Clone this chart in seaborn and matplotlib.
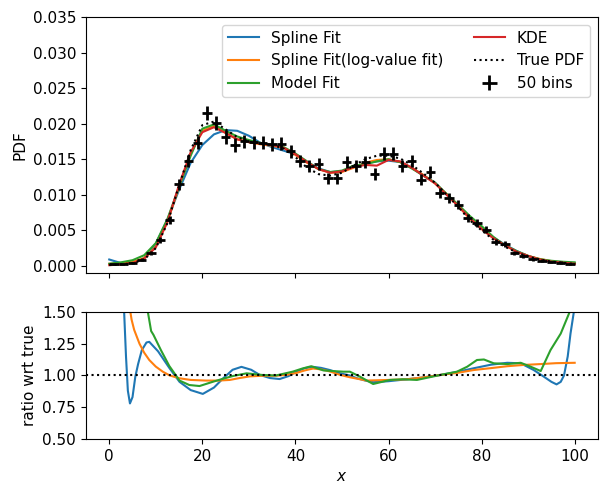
import numpy as np
import matplotlib
matplotlib.use("Agg")
import matplotlib.pyplot as plt
import seaborn as sns

plt.rcParams["font.size"] = 11

# ---------------- data ----------------
x_grid = [0, 2.5, 5, 7.5, 10, 12.5, 15, 17.5, 20, 22.5, 25, 27.5, 30, 32.5, 35,
          37.5, 40, 42.5, 45, 47.5, 50, 52.5, 55, 57.5, 60, 62.5, 65, 67.5, 70,
          72.5, 75, 77.5, 80, 82.5, 85, 87.5, 90, 92.5, 95, 97.5, 100]

spline_fit = [0.0009, 0.0004, 0.00032, 0.0011, 0.0031, 0.0065, 0.0107, 0.0145, 0.0170,
              0.0185, 0.0191, 0.0190, 0.0183, 0.0173, 0.0167, 0.0162, 0.0157, 0.0146,
              0.0137, 0.0132, 0.0133, 0.0139, 0.0144, 0.0147, 0.0148, 0.0146, 0.0138,
              0.0127, 0.0117, 0.0100, 0.0085, 0.0067, 0.0053, 0.0040, 0.0030, 0.0021,
              0.0014, 0.0009, 0.00057, 0.00040, 0.0004]

spline_log = [0.0003, 0.0004, 0.00058, 0.0011, 0.0027, 0.0062, 0.0111, 0.0158, 0.0190,
              0.0197, 0.0187, 0.0178, 0.0174, 0.0171, 0.0169, 0.0166, 0.0156, 0.0145,
              0.0136, 0.0131, 0.0132, 0.0138, 0.0145, 0.0149, 0.0150, 0.0146, 0.0138,
              0.0128, 0.0116, 0.0101, 0.0084, 0.0066, 0.0052, 0.0039, 0.0029, 0.0020,
              0.0014, 0.00098, 0.00066, 0.00046, 0.00031]

model_fit = [0.0003, 0.0005, 0.0008, 0.0015, 0.0032, 0.0066, 0.0111, 0.0155, 0.0193,
             0.0199, 0.0190, 0.0182, 0.0177, 0.0173, 0.0170, 0.0167, 0.0158, 0.0147,
             0.0136, 0.0132, 0.0134, 0.0141, 0.0143, 0.0147, 0.0150, 0.0146, 0.0137,
             0.0127, 0.0117, 0.0101, 0.0086, 0.0070, 0.0056, 0.0041, 0.0029, 0.0021,
             0.0014, 0.00094, 0.00072, 0.00058, 0.0005]

kde = [0.0001, 0.0002, 0.0004, 0.0010, 0.0026, 0.0062, 0.0114, 0.0160, 0.0188,
       0.0195, 0.0187, 0.0178, 0.0174, 0.0172, 0.0170, 0.0166, 0.0157, 0.0146,
       0.0136, 0.0131, 0.0133, 0.0139, 0.0142, 0.0141, 0.0149, 0.0147, 0.0138,
       0.0127, 0.0116, 0.0100, 0.0084, 0.0067, 0.0052, 0.0039, 0.0029, 0.0020,
       0.0014, 0.0009, 0.0006, 0.00045, 0.0003]

true_pdf = [0.00012, 0.0002, 0.0004, 0.0009, 0.0025, 0.0060, 0.0113, 0.0163, 0.0198,
            0.0203, 0.0192, 0.0181, 0.0175, 0.0172, 0.0170, 0.0165, 0.0153, 0.0138,
            0.0129, 0.0127, 0.0131, 0.0141, 0.0150, 0.0155, 0.0155, 0.0151, 0.0142,
            0.0130, 0.0117, 0.0100, 0.0083, 0.0064, 0.0050, 0.0037, 0.0027, 0.0019,
            0.0013, 0.0009, 0.0006, 0.00042, 0.00026]

bin_centers = [1, 3, 5, 7, 9, 11, 13, 15, 17, 19, 21, 23, 25, 27, 29, 31, 33, 35, 37, 39,
               41, 43, 45, 47, 49, 51, 53, 55, 57, 59, 61, 63, 65, 67, 69, 71, 73, 75, 77,
               79, 81, 83, 85, 87, 89, 91, 93, 95, 97, 99]
bin_values = [0.0002, 0.0002, 0.0004, 0.00084, 0.0018, 0.0037, 0.0065, 0.0115, 0.0148,
              0.0173, 0.0215, 0.0201, 0.0181, 0.0170, 0.0175, 0.0174, 0.0173, 0.0171,
              0.0172, 0.0161, 0.0147, 0.0141, 0.0143, 0.0123, 0.0123, 0.0146, 0.0140,
              0.0146, 0.0129, 0.0158, 0.0158, 0.0140, 0.0147, 0.0121, 0.0132, 0.0103,
              0.0095, 0.0086, 0.0067, 0.0060, 0.0051, 0.0034, 0.0031, 0.0018, 0.0014,
              0.0009, 0.00075, 0.00056, 0.00047, 0.00024]
bin_errors = [0.0001, 0.0001, 0.00014, 0.0002, 0.0003, 0.00043, 0.00057, 0.00076, 0.00086,
              0.00093, 0.00104, 0.001, 0.00095, 0.00092, 0.00094, 0.00093, 0.00093, 0.00092,
              0.00093, 0.0009, 0.00086, 0.00084, 0.00085, 0.00078, 0.00078, 0.00085, 0.00084,
              0.00085, 0.0008, 0.00089, 0.00089, 0.00084, 0.00086, 0.00078, 0.00081, 0.00072,
              0.00069, 0.00066, 0.00058, 0.00055, 0.0005, 0.00041, 0.00039, 0.0003, 0.00026,
              0.00021, 0.00019, 0.00017, 0.00015, 0.00011]
bin_half_width = 1.0

# ratio panel
ratio_spline_x = [2.9, 3.2, 3.6, 4.0, 4.45, 5.0, 5.6, 6.2, 7.0, 8.0, 8.6, 10.5, 12.9, 15.1,
                  17.5, 20.1, 22.5, 24.4, 26.5, 28.4, 30.5, 32.3, 34.5, 36.6, 38.5, 40.2,
                  42.0, 43.8, 45.5, 47.4, 49.6, 51.7, 53.1, 55.0, 56.7, 60.0, 63.9, 67.5,
                  71.1, 75.0, 78.3, 82.0, 85.5, 88.4, 91.2, 93.4, 95.0, 96.1, 97.0, 97.7,
                  98.5, 99.1, 99.9, 100.0]
ratio_spline = [1.9, 1.5, 1.15, 0.88, 0.78, 0.83, 0.99, 1.09, 1.2, 1.26, 1.265, 1.19, 1.06,
                0.95, 0.885, 0.855, 0.905, 0.975, 1.045, 1.068, 1.045, 1.005, 0.98, 0.972,
                0.995, 1.03, 1.058, 1.068, 1.06, 1.043, 1.017, 1.0, 0.98, 0.96, 0.947, 0.955,
                0.97, 0.985, 1.004, 1.03, 1.057, 1.085, 1.10, 1.096, 1.043, 0.99, 0.95,
                0.93, 0.95, 1.0, 1.15, 1.33, 1.52, 1.6]

ratio_log_x = [4.2, 4.45, 4.8, 5.35, 6.5, 7.5, 8.6, 10.0, 11.5, 13.0, 15.1, 17.5, 20.8,
               23.5, 25.9, 28.0, 30.2, 33.0, 35.9, 38.0, 40.2, 42.0, 43.8, 45.5, 47.4,
               49.6, 51.7, 55.3, 60.0, 63.9, 67.5, 71.1, 75.0, 78.3, 82.0, 85.5, 89.0,
               92.7, 96.0, 100.0]
ratio_log = [1.6, 1.52, 1.44, 1.36, 1.25, 1.18, 1.122, 1.07, 1.03, 1.0, 0.978, 0.965, 0.96,
             0.96, 0.965, 0.98, 0.993, 0.998, 0.998, 1.005, 1.02, 1.04, 1.055, 1.048, 1.032,
             1.005, 0.986, 0.96, 0.965, 0.97, 0.985, 1.004, 1.022, 1.043, 1.058, 1.073,
             1.083, 1.09, 1.097, 1.10]

ratio_model_x = [8.0, 8.3, 9.0, 9.5, 11.1, 12.9, 15.1, 17.2, 19.4, 22.3, 24.5, 26.6, 29.5,
                 32.9, 35.8, 39.4, 41.5, 43.4, 46.0, 48.0, 50.3, 51.7, 53.9, 56.7, 60.3,
                 63.0, 66.1, 71.1, 74.7, 76.9, 79.0, 80.5, 82.6, 85.5, 88.4, 90.5, 92.7,
                 94.8, 97.0, 98.8, 99.2]
ratio_model = [1.56, 1.5, 1.35, 1.32, 1.20, 1.075, 0.96, 0.925, 0.917, 0.951, 0.975, 0.996,
               1.017, 1.004, 1.0, 1.03, 1.055, 1.073, 1.04, 1.035, 1.03, 1.03, 0.99, 0.933,
               0.965, 0.97, 0.965, 1.004, 1.03, 1.069, 1.122, 1.126, 1.096, 1.09, 1.10, 1.07,
               1.035, 1.20, 1.33, 1.49, 1.55]

# ---------------- figure ----------------
fig = plt.figure(figsize=(6.08, 4.98), dpi=100)
ax1 = fig.add_axes([0.1414, 0.4518, 0.8421, 0.514])
ax2 = fig.add_axes([0.1414, 0.1185, 0.8421, 0.255], sharex=ax1)

c_blue, c_orange, c_green, c_red = "#1f77b4", "#ff7f0e", "#2ca02c", "#d62728"

sns.lineplot(x=x_grid, y=spline_fit, ax=ax1, color=c_blue, lw=1.5, label="Spline Fit", estimator=None, legend=False)
sns.lineplot(x=x_grid, y=spline_log, ax=ax1, color=c_orange, lw=1.5, label="Spline Fit(log-value fit)", estimator=None, legend=False)
sns.lineplot(x=x_grid, y=model_fit, ax=ax1, color=c_green, lw=1.5, label="Model Fit", estimator=None, legend=False)
sns.lineplot(x=x_grid, y=kde, ax=ax1, color=c_red, lw=1.5, label="KDE", estimator=None, legend=False)
sns.lineplot(x=x_grid, y=true_pdf, ax=ax1, color="k", lw=1.5, ls=":", label="True PDF", estimator=None, legend=False)
ax1.errorbar(bin_centers, bin_values, xerr=bin_half_width, yerr=bin_errors, fmt="none",
             ecolor="k", elinewidth=2, label="50 bins")

ax1.set_xlim(-5, 105)
ax1.set_ylim(-0.001, 0.035)
ax1.set_yticks([0, 0.005, 0.01, 0.015, 0.02, 0.025, 0.03, 0.035])
ax1.set_ylabel("PDF")
ax1.set_xlabel("")
ax1.tick_params(labelbottom=False)
ax1.legend(loc="upper right", ncol=2)

sns.lineplot(x=ratio_spline_x, y=ratio_spline, ax=ax2, color=c_blue, lw=1.5, estimator=None, legend=False)
sns.lineplot(x=ratio_log_x, y=ratio_log, ax=ax2, color=c_orange, lw=1.5, estimator=None, legend=False)
sns.lineplot(x=ratio_model_x, y=ratio_model, ax=ax2, color=c_green, lw=1.5, estimator=None, legend=False)
ax2.axhline(1.0, color="k", ls=":", lw=1.5)
ax2.set_ylim(0.5, 1.5)
ax2.set_yticks([0.5, 0.75, 1.0, 1.25, 1.5])
ax2.set_xticks([0, 20, 40, 60, 80, 100])
ax2.set_xlim(-5, 105)
ax2.set_ylabel("ratio wrt true")
ax2.set_xlabel("$x$")

fig.savefig("out.png", dpi=100)
